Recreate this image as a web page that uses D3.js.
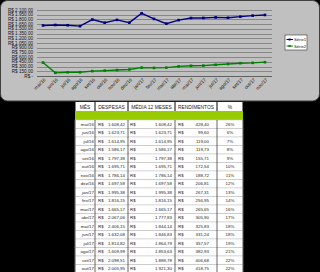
<!DOCTYPE html>
<html>
<head>
<meta charset="utf-8">
<script src="https://cdn.jsdelivr.net/npm/d3@7"></script>
<style>
  html, body { margin: 0; padding: 0; background: #000; }
  svg { display: block; font-family: "Liberation Sans", Arial, sans-serif; }
</style>
</head>
<body>
<div id="chart"></div>
<script>
// chart data
var months = ["mai/16","jun/16","jul/16","ago/16","set/16","out/16","nov/16","dez/16","jan/17","fev/17","mar/17","abr/17","mai/17","jun/17","jul/17","ago/17","set/17","out/17","nov/17"];
var serie1 = [1608.42,1623.71,1614.95,1586.17,1797.38,1695.71,1786.14,1697.58,1995.38,1816.15,1665.17,1777.83,1844.14,1846.83,1864.79,1853.63,1888.78,1921.30,1942.00];
var serie2 = [428.40,99.60,119.00,119.73,155.71,172.54,188.72,206.81,267.31,256.95,265.65,305.90,325.83,331.24,357.57,382.93,406.68,418.75,440.00];
var yTicks = d3.range(0, 2101, 150);

// table data
var tableHeaders = ["MÊS","DESPESAS","MÉDIA 12 MESES","RENDIMENTOS","%"];
var tableMonths = months.slice(0, 18);
var despesas = [1608.42,1623.71,1614.95,1586.17,1797.38,1695.71,1786.14,1697.58,1995.38,1816.15,1665.17,2067.06,2406.15,1632.08,1814.82,1609.99,2098.51,2005.95];
var media = serie1.slice(0, 18);
var rendimentos = serie2.slice(0, 18);
var pct = [26,6,7,8,9,10,11,12,13,14,16,17,18,18,19,21,22,22];

var svgWidth = 320;
var svgHeight = 272;

var svg = d3.select("#chart")
    .append("svg")
    .attr("width", svgWidth)
    .attr("height", svgHeight);

svg.append("rect").attr("width", svgWidth).attr("height", svgHeight).attr("fill", "#000");

//panel
svg.append("rect")
    .attr("x", 0.5).attr("y", 0.5)
    .attr("width", 319).attr("height", 100.5)
    .attr("rx", 7)
    .attr("fill", "#c0c0c0")
    .attr("stroke", "#404040")
    .attr("stroke-width", 1);

//number format pt-BR
var br = d3.formatLocale({decimal: ",", thousands: ".", grouping: [3], currency: ["R$ ", ""]});
var fmt = br.format(",.2f");

//scales
var xScale = d3.scalePoint().domain(months).range([43, 265]);
var yScale = d3.scaleLinear().domain([0, 2100]).range([76, 10]);

var plot = svg.append("g");

//gridlines
plot.selectAll(".grid")
    .data(yTicks)
    .enter()
    .append("line")
    .attr("x1", 37).attr("x2", 272)
    .attr("y1", d => Math.round(yScale(d)) + 0.5)
    .attr("y2", d => Math.round(yScale(d)) + 0.5)
    .attr("stroke", d => d === 0 ? "#555" : "#808080")
    .attr("stroke-width", 0.9);

//y labels
plot.selectAll(".ylab")
    .data(yTicks)
    .enter()
    .append("text")
    .attr("x", 33)
    .attr("y", d => yScale(d) + 1.6)
    .attr("text-anchor", "end")
    .attr("font-size", 4.6)
    .attr("fill", "#111")
    .text(d => d === 0 ? "R$ -" : "R$ " + fmt(d));

//x labels
plot.selectAll(".xlab")
    .data(months)
    .enter()
    .append("text")
    .attr("transform", d => `translate(${xScale(d) + 3}, 80) rotate(-45)`)
    .attr("text-anchor", "end")
    .attr("font-size", 4.8)
    .attr("fill", "#111")
    .text(d => d);

//lines
function drawSeries(values, color) {
    var line = d3.line()
        .x((d, i) => xScale(months[i]))
        .y(d => yScale(d));
    plot.append("path")
        .datum(values)
        .attr("d", line)
        .attr("fill", "none")
        .attr("stroke", color)
        .attr("stroke-width", 1.4);
    plot.selectAll(null)
        .data(values)
        .enter()
        .append("rect")
        .attr("x", (d, i) => xScale(months[i]) - 1.3)
        .attr("y", d => yScale(d) - 1.3)
        .attr("width", 2.6).attr("height", 2.6)
        .attr("fill", color);
}
drawSeries(serie1, "#000080");
drawSeries(serie2, "#008000");

//legend
var legend = svg.append("g").attr("transform", "translate(285,35)");
legend.append("rect")
    .attr("width", 22).attr("height", 15)
    .attr("fill", "#fff").attr("stroke", "#333").attr("stroke-width", 0.6);
[["Série1", "#000080"], ["Série2", "#008000"]].forEach(function(s, i) {
    var y = 4.5 + i * 6.5;
    legend.append("line").attr("x1", 1.5).attr("x2", 8).attr("y1", y).attr("y2", y)
        .attr("stroke", s[1]).attr("stroke-width", 1);
    legend.append("rect").attr("x", 3.6).attr("y", y - 1).attr("width", 2).attr("height", 2).attr("fill", s[1]);
    legend.append("text").attr("x", 9).attr("y", y + 1.5).attr("font-size", 4.2).attr("fill", "#111").text(s[0]);
});

//table
var cols = [75, 95, 128, 175, 217, 243];
var table = svg.append("g").attr("font-family", "'Liberation Sans Narrow', 'Liberation Sans', Arial, sans-serif");

//header
table.append("rect").attr("x", 75).attr("y", 102).attr("width", 168).attr("height", 9).attr("fill", "#fff");
tableHeaders.forEach(function(h, i) {
    table.append("text")
        .attr("x", (cols[i] + cols[i + 1]) / 2)
        .attr("y", 108.5)
        .attr("text-anchor", "middle")
        .attr("font-size", 4.9)
        .attr("fill", "#222")
        .text(h);
});
cols.forEach(function(c) {
    table.append("line").attr("x1", c).attr("x2", c).attr("y1", 102).attr("y2", 111)
        .attr("stroke", "#000").attr("stroke-width", 1);
});
table.append("rect").attr("x", 75).attr("y", 111).attr("width", 168).attr("height", 9).attr("fill", "#99cc00");

//rows
var rowScale = d3.scaleBand().domain(tableMonths).range([120, 120 + 18 * 8.5]);
var rows = table.selectAll(".row")
    .data(tableMonths)
    .enter()
    .append("g")
    .attr("transform", d => `translate(0, ${rowScale(d)})`);

rows.append("rect")
    .attr("x", 75).attr("width", 168).attr("height", rowScale.bandwidth())
    .attr("fill", "#fff").attr("stroke", "#c8c8c8").attr("stroke-width", 0.6);

var rowFont = 4.4;
var ty = 5.9;
rows.append("text").attr("x", 94).attr("y", ty).attr("text-anchor", "end").attr("font-size", rowFont).attr("fill", "#222").text(d => d);
[[0, despesas, 98, 125], [1, media, 130, 172], [2, rendimentos, 178, 209]].forEach(function(c) {
    rows.append("text").attr("x", c[2]).attr("y", ty).attr("font-size", rowFont).attr("fill", "#222").text("R$");
    rows.append("text").attr("x", c[3]).attr("y", ty).attr("text-anchor", "end").attr("font-size", rowFont).attr("fill", "#222")
        .text((d, i) => fmt(c[1][i]));
});
rows.append("text").attr("x", 230).attr("y", ty).attr("text-anchor", "middle").attr("font-size", rowFont).attr("fill", "#222")
    .text((d, i) => pct[i] + "%");

cols.forEach(function(c) {
    table.append("line").attr("x1", c).attr("x2", c).attr("y1", 120).attr("y2", 272)
        .attr("stroke", "#222").attr("stroke-width", 0.7);
});
</script>
</body>
</html>
